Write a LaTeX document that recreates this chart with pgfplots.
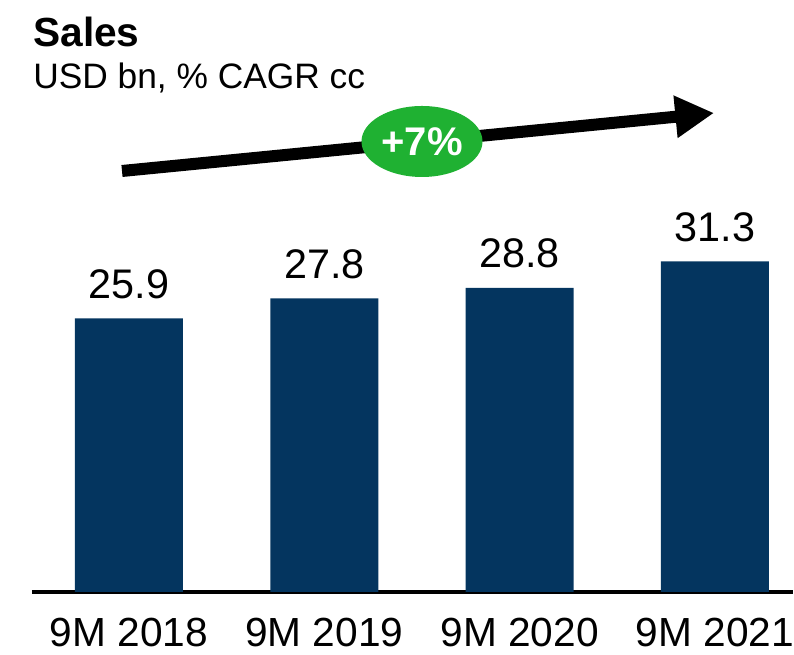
\documentclass[border=0pt]{standalone}
\usepackage{pgfplots}
\pgfplotsset{compat=1.18}
\usetikzlibrary{arrows.meta}
\usepackage{fontspec}
\setmainfont{Liberation Sans}
\definecolor{barnavy}{RGB}{4,53,95}
\definecolor{cagrgreen}{RGB}{31,177,50}
\begin{document}
\begin{tikzpicture}[x=0.75pt,y=0.75pt]
% picture frame in px, y measured from the bottom
\useasboundingbox (0,0) rectangle (794,655);
\begin{axis}[
    at={(24pt,47.25pt)}, anchor=south west,
    scale only axis,
    width=570.75pt, height=316.8pt,
    xmin=-0.4966, xmax=3.4,
    ymin=0, ymax=40,
    axis x line*=bottom,
    axis y line=none,
    axis line style={line width=3pt, -},
    xtick=data,
    xticklabels={9M 2018, 9M 2019, 9M 2020, 9M 2021},
    major tick length=0pt,
    xticklabel style={font=\fontsize{30.5}{30.5}\selectfont, yshift=-16pt},
    ybar, bar width=81pt,
    nodes near coords,
    nodes near coords style={font=\fontsize{31}{31}\selectfont, anchor=base, inner sep=0pt, yshift=15pt,
        /pgf/number format/.cd, fixed, fixed zerofill, precision=1, assume math mode=true},
    clip=false,
]
\addplot[fill=barnavy, draw=none] coordinates {(0,25.9) (1,27.8) (2,28.8) (3,31.3)};
\end{axis}
% title block
\node[anchor=base west, inner sep=0pt, font=\bfseries\fontsize{30.5}{30.5}\selectfont] at (33,608) {Sales};
\node[anchor=base west, inner sep=0pt, font=\fontsize{26.5}{26.5}\selectfont] at (33,566) {USD bn, \% CAGR cc};
% CAGR arrow
\draw[line width=9pt, -{Triangle[length=29pt, width=30pt]}] (122,484) -- (714,542);
\fill[cagrgreen] (422,513.5) ellipse [x radius=60.5, y radius=35.5];
\node[text=white, font=\bfseries\fontsize{30}{30}\selectfont] at (422,513.5) {+7\%};
\end{tikzpicture}
\end{document}
